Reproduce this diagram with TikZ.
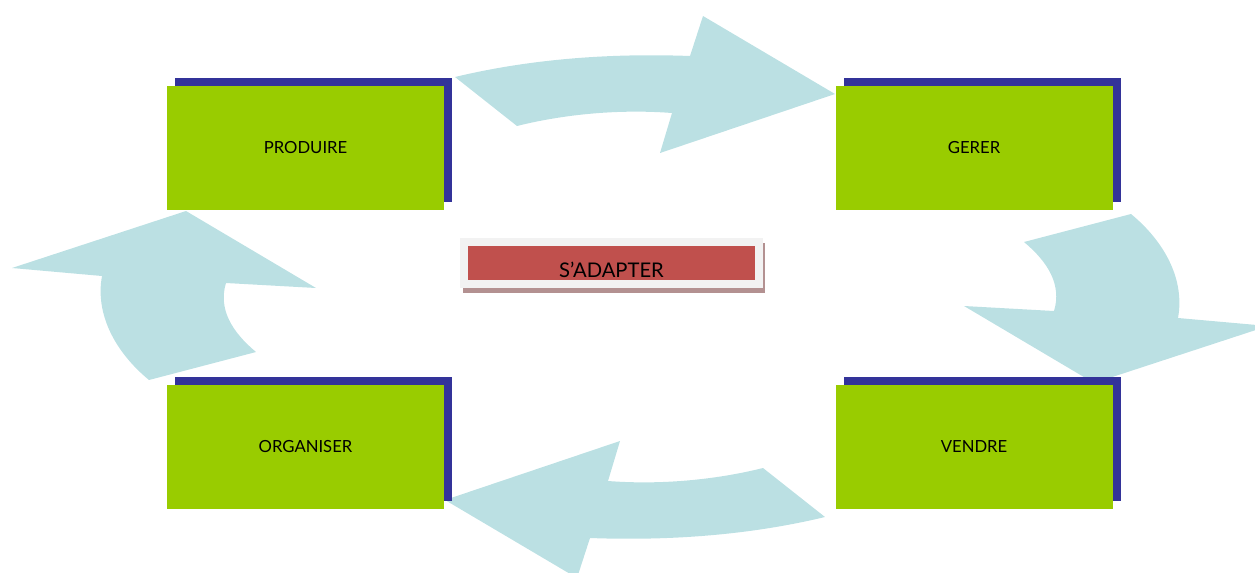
\documentclass[tikz,border=0pt]{standalone}
\usepackage{fontspec}
\setmainfont{Lato}
\usetikzlibrary{positioning,shadows}
\definecolor{arrowblue}{HTML}{BBE0E3}
\definecolor{boxgreen}{HTML}{99CC00}
\definecolor{shadeblue}{HTML}{333399}
\definecolor{adaptred}{HTML}{C0504D}
\definecolor{adaptgray}{HTML}{F2F2F2}
\definecolor{adaptshade}{HTML}{B39191}
\tikzset{turn/.style={fill=arrowblue, draw=none}}

\begin{document}
\begin{tikzpicture}[x=0.02cm, y=-0.02cm, node distance = 1cm]
\tikzstyle{block} = [rectangle, fill=boxgreen, inner sep=0pt, minimum width=5.54cm, minimum height=2.48cm, font=\fontsize{9.5}{11}\selectfont, general shadow={fill=shadeblue, shadow xshift=0.16cm, shadow yshift=0.16cm}]
\tikzstyle{frame} = [rectangle, fill=adaptgray, minimum width=6.06cm, minimum height=1.0cm, general shadow={fill=adaptshade, shadow xshift=0.05cm, shadow yshift=-0.1cm}]
\tikzstyle{tag} = [rectangle, fill=adaptred, inner sep=0pt, minimum width=5.74cm, text height=0.634cm, text depth=0.046cm, font=\fontsize{11.5}{13}\selectfont]

\useasboundingbox (0,0) rectangle (1255,572);
\clip (0,0) rectangle (1255,572);

% curved arrows, drawn under the boxes
\foreach \a in {0,180} {
\path [turn, rotate around={\a:(640,297)}] (455,77) .. controls (530,59) and (610,53) .. (690,56) -- (703,16) -- (835,94) -- (660,153) -- (672,113) .. controls (620,109) and (565,114) .. (517,126) -- cycle;
\path [turn, rotate around={\a:(640,297)}] (1024,242) -- (1131,214) .. controls (1165,242) and (1185,280) .. (1178,318) -- (1268,326) -- (1094,383) -- (964,306) -- (1054,311) .. controls (1062,285) and (1048,262) .. (1024,242) -- cycle;
}

\node [block] (produire) at (305.5,148) {PRODUIRE};
\node [block, right=7.82cm of produire] (gerer) {GERER};
\node [block, below=3.48cm of produire] (organiser) {ORGANISER};
\node [block, right=7.82cm of organiser] (vendre) {VENDRE};

\node [frame] (cadre) at (611.5,263) {};
\node [tag] (adapter) at (cadre) {S’ADAPTER};

\end{tikzpicture}
\end{document}
